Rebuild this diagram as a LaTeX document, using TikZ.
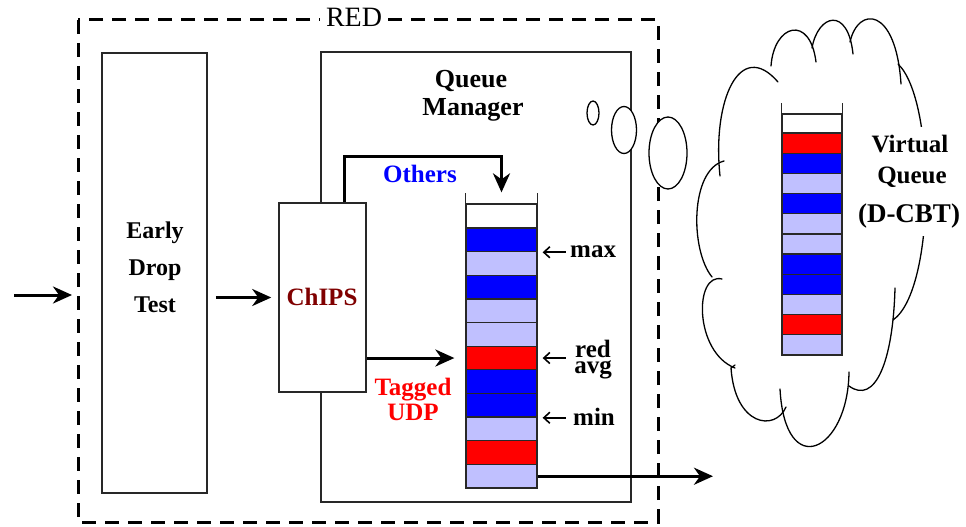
\documentclass[tikz,border=0pt]{standalone}
\usepackage{fontspec}
\setmainfont{Liberation Serif}
\usetikzlibrary{arrows.meta}
\definecolor{qblue}{RGB}{0,0,255}
\definecolor{qred}{RGB}{255,0,0}
\definecolor{qlav}{RGB}{192,192,255}
\definecolor{chipred}{RGB}{128,0,0}
\definecolor{edge}{RGB}{40,40,40}
\begin{document}
\begin{tikzpicture}[x=1pt,y=-1pt,
  every node/.style={inner sep=0pt},
  boxln/.style={draw=edge, line width=1.5pt},
  flow/.style={line width=3pt, -{Stealth[length=19pt,width=17pt,inset=6pt]}},
  txt/.style={font=\fontsize{25}{30}\selectfont\bfseries, anchor=base},
  bigtxt/.style={font=\fontsize{26}{30}\selectfont\bfseries, anchor=base},
  cell/.style={draw=edge, line width=1.3pt, minimum width=71pt, minimum height=23.64pt},
  vcell/.style={draw=edge, line width=1.3pt, minimum width=60pt, minimum height=20.18pt},
  wall/.style={draw=edge, line width=1.5pt},
  pointer/.style={line width=1.6pt, -{Straight Barb[length=6pt,width=11pt]}},
  cloudln/.style={line width=1.3pt, line cap=round},
  bubble/.style={draw=black, line width=1.3pt, fill=white},
]
\useasboundingbox (0,0) rectangle (966,527);

% RED module: dashed frame with its title
\draw[line width=3pt, dash pattern=on 14pt off 9pt] (78,20) rectangle (658,522);
\node[font=\fontsize{28}{30}\selectfont, anchor=base, fill=white, inner xsep=6pt, inner ysep=3pt] (redtitle) at (354,27) {RED};

% Early drop test
\node[boxln, minimum width=105pt, minimum height=440pt] (edt) at (154.5,273) {};
\node[txt, font=\fontsize{24}{30}\selectfont\bfseries] (early) at (155,238) {Early};
\node[txt, font=\fontsize{24}{30}\selectfont\bfseries] (drop) at (155,275) {Drop};
\node[txt, font=\fontsize{24}{30}\selectfont\bfseries] (test) at (155,312) {Test};

% Queue manager
\node[boxln, minimum width=310pt, minimum height=450pt] (qm) at (476,277) {};
\node[bigtxt] (qm1) at (471,87) {Queue};
\node[bigtxt] (qm2) at (473,115) {Manager};

% ChIPS classifier
\node[boxln, fill=white, minimum width=87pt, minimum height=189pt] (chips) at (322.5,297.5) {};
\node[txt, text=chipred] (chipslbl) at (322,305) {ChIPS};

% Physical queue: empty slot and packets
\node[cell, fill=white, minimum height=24pt] (q0) at (501.5,216) {};
\foreach \c [count=\i] in {qblue,qlav,qblue,qlav,qlav,qred,qblue,qblue,qlav,qred,qlav}
  \node[cell, fill=\c] (q\i) at (501.5,{228+23.64*(\i-0.5)}) {};
\draw[wall] ([yshift=10pt]q0.north west) -- (q0.north west);
\draw[wall] ([yshift=10pt]q0.north east) -- (q0.north east);

% Thresholds
\node[txt, anchor=base west] (maxl) at (570,257) {max};
\draw[pointer] ([xshift=28pt]q1.south east) -- ([xshift=5pt]q1.south east);
\node[font=\fontsize{25}{16}\selectfont\bfseries, align=center, anchor=base] (redavg) at (593,373) {red\\avg};
\draw[pointer] ([xshift=28pt]q6.east) -- ([xshift=5pt]q6.east);
\node[txt, anchor=base west] (minl) at (573,425) {min};
\draw[pointer] ([xshift=28pt]q8.south east) -- ([xshift=5pt]q8.south east);

% Flows
\coordinate (inS) at (14,295);
\coordinate (inE) at (72,295);
\draw[flow] (inS) -- (inE);
\draw[flow, shorten <=8pt, shorten >=7pt] (edt.east |- chips.west) -- (chips.west);
\draw[flow] ([xshift=21.5pt]chips.north) -- ([xshift=21.5pt]chips.north |- 0,156)
  -- (q0.north |- 0,156) -- ([yshift=11pt]q0.north);
\node[txt, text=qblue] (others) at (420,182) {Others};
\draw[flow] (chips.east |- q6.west) -- ([xshift=-11pt]q6.west);
\node[txt, text=qred] (tagged) at (413,395) {Tagged};
\node[txt, text=qred] (udp) at (413,420) {UDP};
\coordinate (outE) at (713,477);
\draw[flow] (q11.east) -- (outE |- q11.east);

% Thought bubbles
\draw[bubble] (593,113) ellipse [x radius=6, y radius=12];
\draw[bubble] (624,130) ellipse [x radius=12.5, y radius=23.5];
\draw[bubble] (668,153) ellipse [x radius=19, y radius=36];

% Cloud outline, bump by bump
\draw[cloudln] (720,176) .. controls (712,100) and (740,38) .. (778,82);
\draw[cloudln] (771,66) .. controls (774,24) and (810,14) .. (816,62);
\draw[cloudln] (812,48) .. controls (818,14) and (848,6) .. (853,54);
\draw[cloudln] (850,42) .. controls (858,6) and (896,6) .. (901,84);
\draw[cloudln] (898,64) .. controls (936,100) and (936,290) .. (893,320);
\draw[cloudln] (895,288) .. controls (893,362) and (875,405) .. (849,386);
\draw[cloudln] (849,372) .. controls (848,452) and (785,482) .. (780,389);
\draw[cloudln] (786,407) .. controls (775,432) and (735,426) .. (731,368) -- (735,365);
\draw[cloudln] (722,279) .. controls (694,272) and (694,352) .. (735,368);
\draw[cloudln] (712,277) .. controls (690,250) and (690,170) .. (724,161);

% Virtual queue
\node[vcell, fill=white, minimum height=19pt] (v0) at (812,123.5) {};
\foreach \c [count=\i] in {qred,qblue,qlav,qblue,qlav,qlav,qblue,qblue,qlav,qred,qlav}
  \node[vcell, fill=\c] (v\i) at (812,{133+20.18*(\i-0.5)}) {};
\draw[wall] ([yshift=10pt]v0.north west) -- (v0.north west);
\draw[wall] ([yshift=10pt]v0.north east) -- (v0.north east);
\node[txt, fill=white, inner xsep=2pt, inner ysep=8pt] (vq1) at (910,152) {Virtual};
\node[txt, fill=white, inner xsep=2pt, inner ysep=8pt] (vq2) at (912,183) {Queue};
\node[txt, fill=white, inner xsep=2pt, inner ysep=8pt, font=\fontsize{27}{30}\selectfont\bfseries] (vq3) at (909,222) {(D-CBT)};
\end{tikzpicture}
\end{document}
